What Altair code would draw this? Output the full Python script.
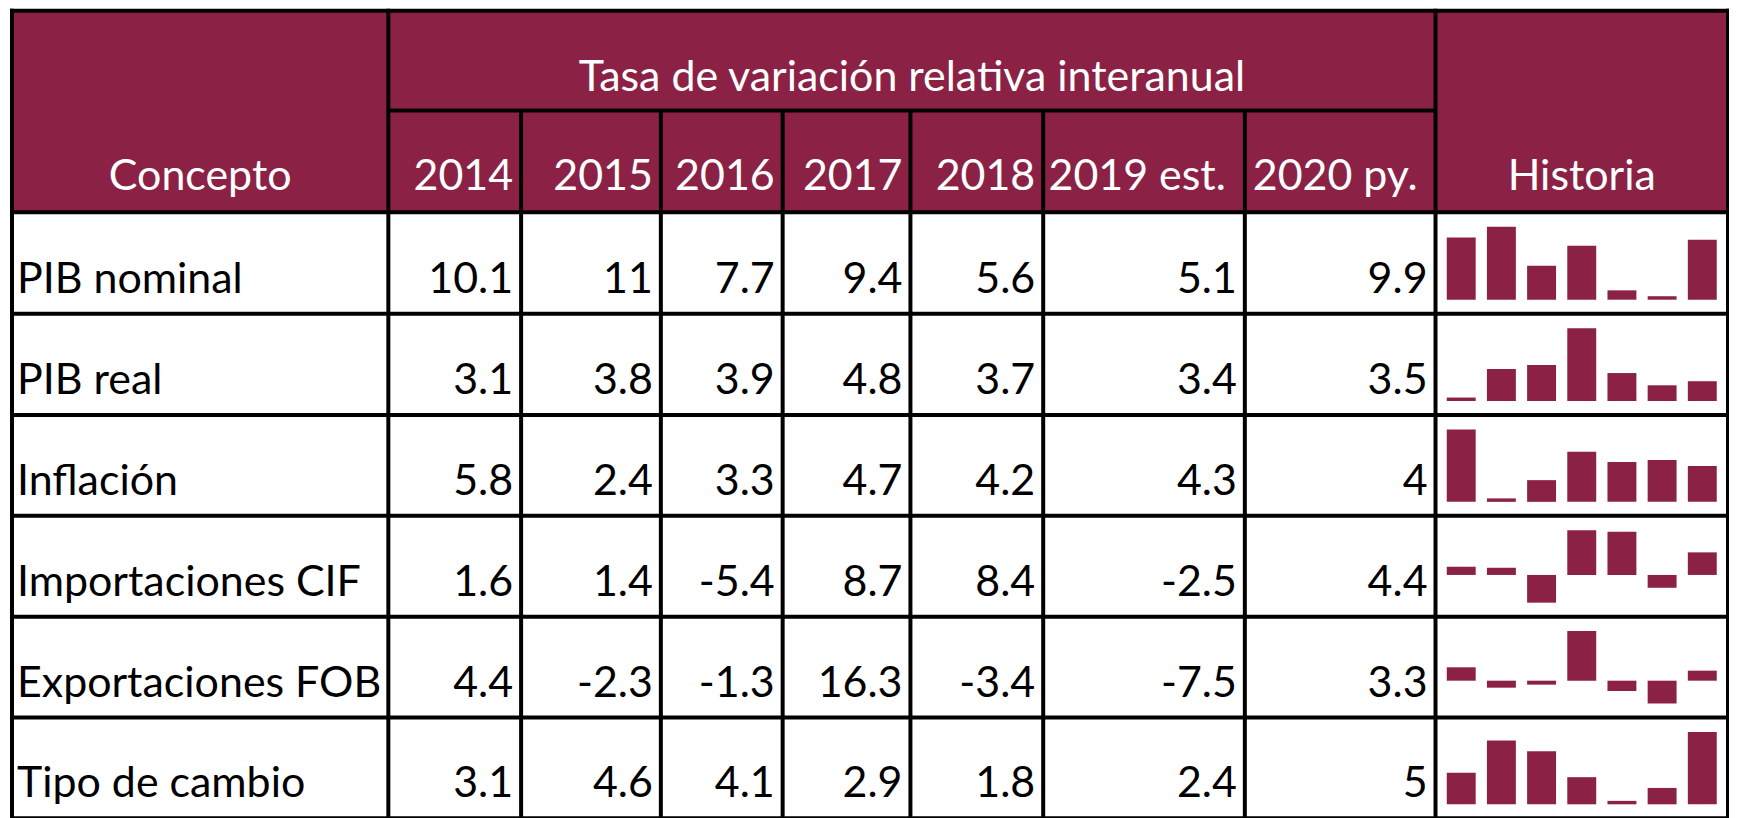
import altair as alt
import pandas as pd

# ---------------- data ----------------
concepts = ["PIB nominal", "PIB real", "Inflación", "Importaciones CIF",
            "Exportaciones FOB", "Tipo de cambio"]
years = ["2014", "2015", "2016", "2017", "2018", "2019 est.", "2020 py."]
pib_nominal = [10.1, 11, 7.7, 9.4, 5.6, 5.1, 9.9]
pib_real = [3.1, 3.8, 3.9, 4.8, 3.7, 3.4, 3.5]
inflacion = [5.8, 2.4, 3.3, 4.7, 4.2, 4.3, 4]
importaciones_cif = [1.6, 1.4, -5.4, 8.7, 8.4, -2.5, 4.4]
exportaciones_fob = [4.4, -2.3, -1.3, 16.3, -3.4, -7.5, 3.3]
tipo_de_cambio = [3.1, 4.6, 4.1, 2.9, 1.8, 2.4, 5]
header_concept = "Concepto"
header_group = "Tasa de variación relativa interanual"
header_history = "Historia"

series = [pib_nominal, pib_real, inflacion, importaciones_cif,
          exportaciones_fob, tipo_de_cambio]

# ---------------- layout (page pixels) ----------------
MARGIN = 8
W, H = 1724, 810
col_edges = [12, 389, 522, 662, 784, 912, 1045, 1247, 1438, 1731]
row_edges = [10, 110, 212, 313.5, 415, 516, 617, 718, 819]
FONT = "Lato"
FS = 43
MAROON = "#8B2246"
LW = 4
HALF = LW / 2

xscale = alt.Scale(domain=[MARGIN, MARGIN + W], range=[0, W], nice=False, zero=False)
yscale = alt.Scale(domain=[MARGIN, MARGIN + H], range=[0, H], nice=False, zero=False)


def px(f):
    return alt.X(f"{f}:Q", scale=xscale, axis=None)


def py(f):
    return alt.Y(f"{f}:Q", scale=yscale, axis=None)


left, right = col_edges[0], col_edges[-1]
top, head_mid, head_bot = row_edges[0], row_edges[1], row_edges[2]
bottom = row_edges[-1]

# header background
header_df = pd.DataFrame({"x0": [left], "x1": [right], "y0": [top], "y1": [head_bot]})
header_bg = alt.Chart(header_df).mark_rect(color=MAROON).encode(
    x=px("x0"), x2=alt.X2("x1"), y=py("y0"), y2=alt.Y2("y1"))

# grid lines
lines = []
lines.append((left - HALF, right + HALF, top, top))
lines.append((col_edges[1], col_edges[-2], head_mid, head_mid))
for r in row_edges[2:]:
    lines.append((left - HALF, right + HALF, r, r))
for i, c in enumerate(col_edges):
    if i in (0, 1, len(col_edges) - 2, len(col_edges) - 1):
        lines.append((c, c, top - HALF, bottom))
    else:
        lines.append((c, c, head_mid, bottom))
lines_df = pd.DataFrame(lines, columns=["x0", "x1", "y0", "y1"])
grid = alt.Chart(lines_df).mark_rule(color="black", strokeWidth=LW).encode(
    x=px("x0"), x2=alt.X2("x1"), y=py("y0"), y2=alt.Y2("y1"))

# header texts
head_center_df = pd.DataFrame({
    "text": [header_concept, header_group, header_history],
    "x": [(col_edges[0] + col_edges[1]) / 2, (col_edges[1] + col_edges[-2]) / 2,
          (col_edges[-2] + col_edges[-1]) / 2],
    "y": [190, 90, 190],
})
head_center = alt.Chart(head_center_df).mark_text(
    align="center", baseline="alphabetic", font=FONT, fontSize=FS, color="white"
).encode(x=px("x"), y=py("y"), text="text:N")

year_pad = [8, 8, 8, 8, 8, 19, 18]
head_years_df = pd.DataFrame({
    "text": years,
    "x": [col_edges[2 + j] - year_pad[j] for j in range(len(years))],
    "y": [190] * len(years),
})
head_years = alt.Chart(head_years_df).mark_text(
    align="right", baseline="alphabetic", font=FONT, fontSize=FS, color="white"
).encode(x=px("x"), y=py("y"), text="text:N")

# body texts
label_df = pd.DataFrame({
    "text": concepts,
    "x": [17] * len(concepts),
    "y": [row_edges[3 + i] - 21 for i in range(len(concepts))],
})
labels = alt.Chart(label_df).mark_text(
    align="left", baseline="alphabetic", font=FONT, fontSize=FS, color="black"
).encode(x=px("x"), y=py("y"), text="text:N")

val_rows = []
for i, vals in enumerate(series):
    for j, v in enumerate(vals):
        val_rows.append({"text": f"{v:g}", "x": col_edges[2 + j] - 8,
                         "y": row_edges[3 + i] - 21})
vals_df = pd.DataFrame(val_rows)
values = alt.Chart(vals_df).mark_text(
    align="right", baseline="alphabetic", font=FONT, fontSize=FS, color="black"
).encode(x=px("x"), y=py("y"), text="text:N")

# sparklines (one independent scale per row)
spark_layers = []
for i, vals in enumerate(series):
    lo, hi = min(vals), max(vals)
    base = 0 if lo < 0 else lo - 0.05 * (hi - lo)
    d = pd.DataFrame({"year": years, "value": vals, "base": [base] * len(vals)})
    y_top = row_edges[2 + i] + 14.5 - MARGIN
    y_bot = row_edges[3 + i] - 14 - MARGIN
    spark_layers.append(
        alt.Chart(d).mark_bar(color=MAROON).encode(
            x=alt.X("year:N", sort=years, axis=None,
                    scale=alt.Scale(range=[col_edges[-2] - MARGIN, col_edges[-1] - MARGIN],
                                    paddingInner=0.28, paddingOuter=0.28)),
            y=alt.Y("value:Q", axis=None,
                    scale=alt.Scale(range=[y_bot, y_top], zero=False, nice=False)),
            y2=alt.Y2("base:Q"),
        )
    )

chart = alt.layer(header_bg, *spark_layers, head_center, head_years, labels, values, grid
                  ).resolve_scale(x="independent", y="independent").properties(
    width=W, height=H, padding=0,
    autosize=alt.AutoSizeParams(type="none"),
    background="white",
).configure_view(stroke=None)

chart.save("out.html", embed_options={"renderer": "svg", "actions": False})
